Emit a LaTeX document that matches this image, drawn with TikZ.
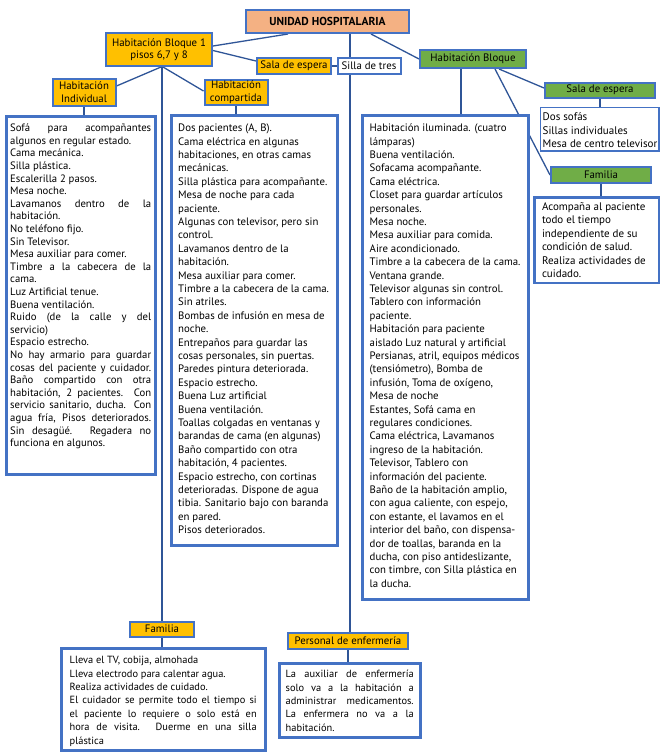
\documentclass[tikz,border=0pt]{standalone}
\usepackage{fontspec}
\setmainfont{PT Sans}
\usetikzlibrary{calc,backgrounds}
\definecolor{bblue}{HTML}{4472C4}
\definecolor{cblue}{HTML}{2F5597}
\definecolor{orng}{HTML}{FFC000}
\definecolor{grn}{HTML}{70AD47}
\definecolor{salm}{HTML}{F4B183}
\newcommand\jl[1]{\makebox[\linewidth][s]{#1}\\}
\newcommand\rl[1]{\mbox{#1}\\}
\newcommand\fsA{\fontsize{10.7pt}{12.6pt}\selectfont}
\newcommand\fsB{\fontsize{10.8pt}{13.4pt}\selectfont}
\newcommand\fsC{\fontsize{10.4pt}{13.4pt}\selectfont}
\newcommand\fsD{\fontsize{11pt}{13.5pt}\selectfont}
\newcommand\fsL{\fontsize{10.8pt}{12.4pt}\selectfont}
\newcommand\fsT{\fontsize{11.5pt}{13pt}\selectfont}
\newcommand\fstrut{\rule{0pt}{9pt}}
\begin{document}
\begin{tikzpicture}[x=1pt,y=-1pt,
  lbl/.style={draw=bblue, line width=2pt, inner sep=0pt, align=center, font=\fsL},
  olbl/.style={lbl, fill=orng},
  glbl/.style={lbl, fill=grn},
  bigbox/.style={draw=bblue, line width=3.4pt, fill=white, anchor=north west, inner sep=0pt},
  conn/.style={draw=cblue, line width=1.3pt}]
\path[use as bounding box] (0,0) rectangle (663,755);

% label nodes
\node[lbl, fill=salm, minimum width=163pt, minimum height=23pt, font=\fsT\bfseries] (unidad) at (327.5,21.5) {UNIDAD HOSPITALARIA};
\node[olbl, minimum width=106pt, minimum height=33pt] (bloque1) at (159,49.5) {Habitación Bloque 1\\pisos 6,7 y 8};
\node[olbl, minimum width=74pt, minimum height=16pt] (salaA) at (294,66) {Sala de espera};
\node[lbl, fill=white, minimum width=63pt, minimum height=16pt] (silla) at (369,66) {Silla de tres};
\node[glbl, minimum width=106pt, minimum height=18pt] (bloque) at (473,59) {Habitación Bloque};
\node[glbl, minimum width=110pt, minimum height=15pt] (salaB) at (600,90) {Sala de espera};
\node[glbl, minimum width=100pt, minimum height=16pt] (familiaB) at (601,175) {Familia};
\node[olbl, minimum width=63pt, minimum height=27pt] (individual) at (84,92) {Habitación\\Individual};
\node[olbl, minimum width=63pt, minimum height=25pt] (compartida) at (236,92) {Habitación\\compartida};
\node[olbl, minimum width=64pt, minimum height=15pt] (familiaA) at (162,629) {Familia};
\node[olbl, minimum width=120pt, minimum height=16pt] (personal) at (348,640.5) {Personal de enfermería};

% text boxes
\node[bigbox, line width=1.2pt, inner xsep=2.5pt, inner ysep=4.4pt] (sofas) at (539.6,106.6)
 {\parbox[c][35pt][t]{113.8pt}{\fsD\fstrut\rl{Dos sofás}\rl{Sillas individuales}\mbox{Mesa de centro televisor}}};

\node[bigbox, line width=2.5pt, inner xsep=7.5pt, inner ysep=3.75pt] (acompana) at (533.25,196.25)
 {\parbox[c][78pt][t]{109.5pt}{\fsD\fstrut\rl{Acompaña al paciente}\rl{todo el tiempo}\rl{independiente de su}\rl{condición de salud.}\rl{Realiza actividades de}\mbox{cuidado.}}};

\node[bigbox, inner xsep=4pt, inner ysep=6.5pt] (leftbox) at (4.5,114.5)
 {\parbox[c][345pt][t]{141pt}{\fsA\fstrut
 \jl{Sofá para acompañantes}
 \rl{algunos en regular estado.}
 \rl{Cama mecánica.}
 \rl{Silla plástica.}
 \rl{Escalerilla 2 pasos.}
 \rl{Mesa noche.}
 \jl{Lavamanos dentro de la}
 \rl{habitación.}
 \rl{No teléfono fijo.}
 \rl{Sin Televisor.}
 \rl{Mesa auxiliar para comer.}
 \jl{Timbre a la cabecera de la}
 \rl{cama.}
 \rl{Luz Artificial tenue.}
 \rl{Buena ventilación.}
 \jl{Ruido (de la calle y del}
 \rl{servicio)}
 \rl{Espacio estrecho.}
 \jl{No hay armario para guardar}
 \jl{cosas del paciente y cuidador.}
 \jl{Baño compartido con otra}
 \jl{habitación, 2 pacientes. Con}
 \jl{servicio sanitario, ducha. Con}
 \jl{agua fría, Pisos deteriorados.}
 \jl{Sin desagüé. Regadera no}
 \mbox{funciona en algunos.}}};

\node[bigbox, inner xsep=7pt, inner ysep=7.5pt] (midbox) at (169.5,113.5)
 {\parbox[c][415pt][t]{152pt}{\fsB\fstrut
 \rl{Dos pacientes (A, B).}
 \rl{Cama eléctrica en algunas}
 \rl{habitaciones, en otras camas}
 \rl{mecánicas.}
 \rl{Silla plástica para acompañante.}
 \rl{Mesa de noche para cada}
 \rl{paciente.}
 \rl{Algunas con televisor, pero sin}
 \rl{control.}
 \rl{Lavamanos dentro de la}
 \rl{habitación.}
 \rl{Mesa auxiliar para comer.}
 \rl{Timbre a la cabecera de la cama.}
 \rl{Sin atriles.}
 \rl{Bombas de infusión en mesa de}
 \rl{noche.}
 \rl{Entrepaños para guardar las}
 \rl{cosas personales, sin puertas.}
 \rl{Paredes pintura deteriorada.}
 \rl{Espacio estrecho.}
 \rl{Buena Luz artificial}
 \rl{Buena ventilación.}
 \rl{Toallas colgadas en ventanas y}
 \rl{barandas de cama (en algunas)}
 \rl{Baño compartido con otra}
 \rl{habitación, 4 pacientes.}
 \rl{Espacio estrecho, con cortinas}
 \rl{deterioradas. Dispone de agua}
 \rl{tibia. Sanitario bajo con baranda}
 \rl{en pared.}
 \mbox{Pisos deteriorados.}}};

\node[bigbox, inner xsep=7.5pt, inner ysep=7.5pt] (rightbox) at (360.5,113.5)
 {\parbox[c][469pt][t]{151pt}{\fsB\fstrut
 \rl{Habitación iluminada. (cuatro}
 \rl{lámparas)}
 \rl{Buena ventilación.}
 \rl{Sofacama acompañante.}
 \rl{Cama eléctrica.}
 \rl{Closet para guardar artículos}
 \rl{personales.}
 \rl{Mesa noche.}
 \rl{Mesa auxiliar para comida.}
 \rl{Aire acondicionado.}
 \rl{Timbre a la cabecera de la cama.}
 \rl{Ventana grande.}
 \rl{Televisor algunas sin control.}
 \rl{Tablero con información}
 \rl{paciente.}
 \rl{Habitación para paciente}
 \rl{aislado Luz natural y artificial}
 \rl{Persianas, atril, equipos médicos}
 \rl{(tensiómetro), Bomba de}
 \rl{infusión, Toma de oxígeno,}
 \rl{Mesa de noche}
 \rl{Estantes, Sofá cama en}
 \rl{regulares condiciones.}
 \rl{Cama eléctrica, Lavamanos}
 \rl{ingreso de la habitación.}
 \rl{Televisor, Tablero con}
 \rl{información del paciente.}
 \rl{Baño de la habitación amplio,}
 \rl{con agua caliente, con espejo,}
 \rl{con estante, el lavamos en el}
 \rl{interior del baño, con dispensa-}
 \rl{dor de toallas, baranda en la}
 \rl{ducha, con piso antideslizante,}
 \rl{con timbre, con Silla plástica en}
 \mbox{la ducha.}}};

\node[bigbox, inner xsep=8.5pt, inner ysep=6.5pt] (famBox) at (59.5,646.5)
 {\parbox[c][89pt][t]{187pt}{\fsC\fstrut
 \rl{Lleva el TV, cobija, almohada}
 \rl{Lleva electrodo para calentar agua.}
 \rl{Realiza actividades de cuidado.}
 \jl{El cuidador se permite todo el tiempo si}
 \jl{el paciente lo requiere o solo está en}
 \jl{hora de visita. Duerme en una silla}
 \mbox{plástica}}};

\node[bigbox, inner xsep=6.5pt, inner ysep=5.5pt] (persBox) at (277.5,661.5)
 {\parbox[c][63pt][t]{128pt}{\fsC\fstrut
 \jl{La auxiliar de enfermería}
 \jl{solo va a la habitación a}
 \jl{administrar medicamentos.}
 \jl{La enfermera no va a la}
 \mbox{habitación.}}};

% connectors
\coordinate (vx) at (350,0);
\begin{pgfonlayer}{background}
\draw[conn] ($(unidad.south west)+(43,0)$) -- ($(bloque1.east)+(0,-3.5)$);
\draw[conn] ($(bloque1.east)+(0,1)$) -- ($(salaA.west)+(0,-5)$);
\draw[conn] (salaA.east) -- (silla.west);
\draw[conn] (vx |- unidad.south) -- (vx |- silla.north);
\draw[conn] (vx |- silla.south) -- (vx |- personal.north);
\draw[conn] ($(unidad.south west)+(126,0)$) -- (bloque.west);
\draw[conn] ($(bloque.south west)+(42,0)$) coordinate (rb) -- (rb |- rightbox.north);
\draw[conn] ($(bloque.south west)+(76,0)$) -- (familiaB.west);
\draw[conn] ($(bloque.south west)+(80,0)$) -- ($(salaB.west)+(0,-2)$);
\draw[conn] (salaB.south) -- (salaB.south |- sofas.north);
\draw[conn] (familiaB.south) -- (familiaB.south |- acompana.north);
\draw[conn] ($(bloque1.south west)+(56,0)$) -- ($(individual.east)+(0,-6)$);
\draw[conn] ($(bloque1.south west)+(58,0)$) -- ($(compartida.west)+(0,-1)$);
\draw[conn] (familiaA.north |- bloque1.south) -- (familiaA.north);
\draw[conn] (individual.south) -- (individual.south |- leftbox.north);
\draw[conn] (compartida.south) -- (compartida.south |- midbox.north);
\draw[conn] (familiaA.south) -- (familiaA.south |- famBox.north);
\draw[conn] (personal.south) -- (personal.south |- persBox.north);
\end{pgfonlayer}
\end{tikzpicture}
\end{document}
